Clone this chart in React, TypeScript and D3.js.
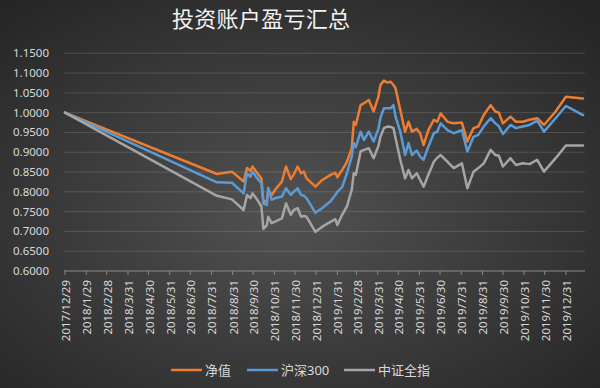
import React from "react";
import * as d3 from "d3";

// dates of each observation (Excel date axis)
const dates = [
  "2017/12/29", "2018/8/8", "2018/8/30", "2018/9/16", "2018/9/21", "2018/9/26", "2018/9/29",
  "2018/10/6", "2018/10/12", "2018/10/15", "2018/10/20", "2018/10/22", "2018/10/27", "2018/11/1",
  "2018/11/11", "2018/11/17", "2018/11/24", "2018/11/28", "2018/12/4", "2018/12/9", "2018/12/13",
  "2018/12/17", "2018/12/30", "2019/1/9", "2019/1/21", "2019/1/28", "2019/1/31", "2019/2/7",
  "2019/2/14", "2019/2/21", "2019/2/24", "2019/2/27", "2019/3/6", "2019/3/11", "2019/3/18",
  "2019/3/25", "2019/4/1", "2019/4/4", "2019/4/9", "2019/4/14", "2019/4/19", "2019/4/23",
  "2019/4/26", "2019/5/3", "2019/5/10", "2019/5/15", "2019/5/20", "2019/5/27", "2019/6/1",
  "2019/6/6", "2019/6/13", "2019/6/21", "2019/6/26", "2019/7/1", "2019/7/11", "2019/7/20",
  "2019/8/1", "2019/8/9", "2019/8/18", "2019/8/25", "2019/9/2", "2019/9/12", "2019/9/19",
  "2019/9/24", "2019/9/30", "2019/10/11", "2019/10/19", "2019/10/29", "2019/11/8", "2019/11/19",
  "2019/11/29", "2019/12/16", "2019/12/31", "2020/1/25",
];

const netValue = [
  1.0, 0.845, 0.851, 0.826, 0.86, 0.853, 0.864, 0.847, 0.834, 0.775, 0.777, 0.805, 0.792, 0.805,
  0.826, 0.864, 0.832, 0.843, 0.864, 0.847, 0.851, 0.834, 0.813, 0.83, 0.843, 0.848, 0.837, 0.855,
  0.876, 0.91, 0.977, 0.969, 1.019, 1.024, 1.032, 1.003, 1.04, 1.07, 1.081, 1.076, 1.078, 1.07,
  1.062, 1.007, 0.952, 0.977, 0.952, 0.959, 0.948, 0.918, 0.956, 0.982, 0.977, 0.998, 0.977, 0.973,
  0.975, 0.927, 0.961, 0.965, 0.994, 1.019, 1.003, 1.0, 0.973, 0.99, 0.977, 0.977, 0.982, 0.986,
  0.969, 1.003, 1.04, 1.036,
];

const hs300 = [
  1.0, 0.824, 0.823, 0.796, 0.847, 0.838, 0.851, 0.834, 0.822, 0.77, 0.767, 0.81, 0.78, 0.784,
  0.788, 0.809, 0.792, 0.8, 0.809, 0.792, 0.79, 0.784, 0.747, 0.759, 0.776, 0.792, 0.8, 0.812,
  0.847, 0.889, 0.923, 0.913, 0.952, 0.931, 0.952, 0.927, 0.959, 0.987, 1.011, 1.011, 1.011, 1.019,
  0.99, 0.952, 0.893, 0.923, 0.893, 0.904, 0.889, 0.881, 0.914, 0.948, 0.952, 0.973, 0.956, 0.948,
  0.956, 0.902, 0.939, 0.944, 0.965, 0.986, 0.973, 0.966, 0.946, 0.969, 0.961, 0.965, 0.969, 0.98,
  0.952, 0.986, 1.017, 0.994,
];

const zzIndex = [
  1.0, 0.79, 0.781, 0.754, 0.792, 0.784, 0.796, 0.78, 0.763, 0.706, 0.716, 0.737, 0.721, 0.725,
  0.733, 0.771, 0.742, 0.754, 0.759, 0.737, 0.739, 0.737, 0.699, 0.712, 0.724, 0.731, 0.716, 0.742,
  0.763, 0.805, 0.847, 0.843, 0.902, 0.906, 0.91, 0.885, 0.916, 0.939, 0.961, 0.965, 0.964, 0.961,
  0.936, 0.881, 0.834, 0.855, 0.834, 0.847, 0.83, 0.813, 0.843, 0.876, 0.886, 0.893, 0.876, 0.86,
  0.872, 0.809, 0.851, 0.86, 0.872, 0.906, 0.893, 0.891, 0.864, 0.885, 0.868, 0.872, 0.87, 0.881,
  0.851, 0.885, 0.917, 0.917,
];

const tickLabels = [
  "2017/12/29", "2018/1/29", "2018/2/28", "2018/3/31", "2018/4/30", "2018/5/31", "2018/6/30",
  "2018/7/31", "2018/8/31", "2018/9/30", "2018/10/31", "2018/11/30", "2018/12/31", "2019/1/31",
  "2019/2/28", "2019/3/31", "2019/4/30", "2019/5/31", "2019/6/30", "2019/7/31", "2019/8/31",
  "2019/9/30", "2019/10/31", "2019/11/30", "2019/12/31",
];

const yTicks = [0.6, 0.65, 0.7, 0.75, 0.8, 0.85, 0.9, 0.95, 1.0, 1.05, 1.1, 1.15];

const seriesNames = ["净值", "沪深300", "中证全指"];
const seriesColors = ["#ED7D31", "#5B9BD5", "#A5A5A5"];

const FONT = "'Noto Sans', 'Noto Sans CJK SC', sans-serif";

const App = () => {
  const width = 600;
  const height = 388;
  const svgRef = React.useRef<SVGSVGElement>(null);

  React.useEffect(() => {
    const parseDate = d3.timeParse("%Y/%m/%d");
    const svg = d3.select(svgRef.current);
    svg.selectAll("*").remove();

    // background
    const defs = svg.append("defs");
    const grad = defs.append("radialGradient")
      .attr("id", "bg")
      .attr("cx", "48%").attr("cy", "55%").attr("r", "70%");
    grad.append("stop").attr("offset", "0%").attr("stop-color", "#525252");
    grad.append("stop").attr("offset", "100%").attr("stop-color", "#262626");
    svg.append("rect")
      .attr("width", width).attr("height", height)
      .attr("fill", "url(#bg)");

    const x = d3.scaleTime()
      .domain([parseDate(dates[0])!, parseDate(dates[dates.length - 1])!])
      .range([65, 583]);
    const y = d3.scaleLinear().domain([0.6, 1.15]).range([271, 53.3]);
    const plotLeft = 64;
    const plotRight = 585;

    // title
    svg.append("text")
      .attr("x", 172).attr("y", 27)
      .attr("textLength", 178)
      .attr("lengthAdjust", "spacing")
      .attr("fill", "#f2f2f2")
      .style("font-family", "'Noto Sans CJK SC', serif")
      .style("font-size", "22px")
      .text("投资账户盈亏汇总");

    // gridlines + y labels
    const yAxis = svg.append("g");
    yTicks.forEach(t => {
      if (t > 0.6) {
        yAxis.append("line")
          .attr("x1", plotLeft).attr("x2", plotRight)
          .attr("y1", y(t)).attr("y2", y(t))
          .attr("stroke", "rgba(255,255,255,0.14)")
          .attr("stroke-width", 1);
      }
      yAxis.append("text")
        .attr("x", 49).attr("y", y(t))
        .attr("dy", "0.35em")
        .attr("text-anchor", "end")
        .attr("fill", "#d9d9d9")
        .style("font-family", FONT)
        .style("font-size", "11.5px")
        .text(d3.format(".4f")(t));
    });

    // x axis
    const xAxis = svg.append("g").attr("transform", "translate(0," + y(0.6) + ")");
    xAxis.append("line")
      .attr("x1", plotLeft).attr("x2", plotRight)
      .attr("stroke", "#8a8a8a").attr("stroke-width", 1);
    tickLabels.forEach(lbl => {
      const px = x(parseDate(lbl)!);
      xAxis.append("line")
        .attr("x1", px).attr("x2", px)
        .attr("y1", 0).attr("y2", 4)
        .attr("stroke", "#8a8a8a");
      xAxis.append("text")
        .attr("transform", "translate(" + (px + 1) + ",9) rotate(-90)")
        .attr("dy", "0.35em")
        .attr("text-anchor", "end")
        .attr("fill", "#d9d9d9")
        .style("font-family", FONT)
        .style("font-size", "11.5px")
        .text(lbl);
    });

    // lines
    const allSeries = [netValue, hs300, zzIndex];
    const line = d3.line<number>()
      .x((_, i) => x(parseDate(dates[i])!))
      .y(d => y(d));
    allSeries.forEach((s, k) => {
      svg.append("path")
        .datum(s)
        .attr("d", line)
        .attr("fill", "none")
        .attr("stroke", seriesColors[k])
        .attr("stroke-width", 2.5)
        .attr("stroke-linejoin", "round")
        .attr("stroke-linecap", "round");
    });

    // legend
    const legendX = [171, 247, 344];
    const legend = svg.append("g").attr("transform", "translate(0,370)");
    seriesNames.forEach((name, k) => {
      legend.append("line")
        .attr("x1", legendX[k]).attr("x2", legendX[k] + 31)
        .attr("stroke", seriesColors[k])
        .attr("stroke-width", 2.5);
      legend.append("text")
        .attr("x", legendX[k] + 34).attr("y", 0)
        .attr("dy", "0.36em")
        .attr("fill", "#d9d9d9")
        .style("font-family", FONT)
        .style("font-size", "13px")
        .text(name);
    });
  }, []);

  return (
    <svg
      ref={svgRef}
      width={width}
      height={height}
      style={{ position: "absolute", left: 0, top: 0 }}
    />
  );
};

export default App;
